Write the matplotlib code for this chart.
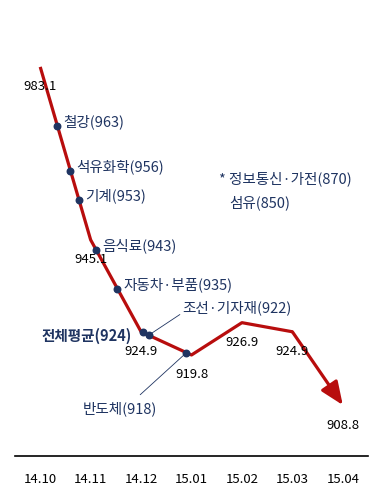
import numpy as np
import matplotlib
matplotlib.use("Agg")
import matplotlib.pyplot as plt

plt.rcParams['font.family'] = ['Noto Sans CJK KR', 'DejaVu Sans']

# monthly average values
months = ['14.10', '14.11', '14.12', '15.01', '15.02', '15.03', '15.04']
values = [983.1, 945.1, 924.9, 919.8, 926.9, 924.9, 908.8]

# industries marked on the line
industries = ['철강', '석유화학', '기계', '음식료', '자동차·부품', '전체평균', '조선·기자재', '반도체']
industry_vals = [963, 956, 953, 943, 935, 924, 922, 918]

# industries below the chart range (listed as a note)
note_names = ['정보통신·가전', '섬유']
note_vals = [870, 850]

navy = '#1f3461'
red = '#b80d0d'

fig = plt.figure(figsize=(3.84, 4.96), dpi=100)
ax = fig.add_axes([15 / 384, 1 - 456 / 496, 353 / 384, 456 / 496])
ax.set_xlim(-0.5, 6.5)
ax.set_ylim(897.6, 997.8)

x = np.arange(len(months))
ax.plot(x[:-1], values[:-1], color=red, lw=2.3, solid_joinstyle='round',
        solid_capstyle='butt', zorder=2)
ax.annotate('', xy=(x[-1], values[-1]), xytext=(x[-2], values[-2]),
            arrowprops=dict(arrowstyle='-|>,head_length=1.0,head_width=0.42',
                            color=red, lw=2.3, mutation_scale=14,
                            shrinkA=0, shrinkB=0), zorder=2)

for xi, v in zip(x, values):
    ax.annotate(f'{v:.1f}', (xi, v), xytext=(0, -20), textcoords='offset pixels',
                ha='center', va='center', fontsize=9.5, color='black')

# where each industry dot sits along the month axis
dot_x = [0.34, 0.60, 0.77, 1.11, 1.53, 2.03, 2.15, 2.90]
dot_y = np.interp(dot_x, x, values)
ax.scatter(dot_x, dot_y, s=22, color=navy, zorder=3)

for i, (name, v) in enumerate(zip(industries, industry_vals)):
    label = f'{name}({v})'
    if name == '전체평균':
        ax.annotate(label, (dot_x[i], dot_y[i]), xytext=(-11, -3),
                    textcoords='offset pixels', ha='right', va='center',
                    fontsize=10.5, color=navy, fontweight='bold')
    elif name == '조선·기자재':
        ax.annotate(label, (dot_x[i], dot_y[i]), xytext=(34, 27),
                    textcoords='offset pixels', ha='left', va='center',
                    fontsize=10.5, color=navy,
                    arrowprops=dict(arrowstyle='-', color=navy, lw=0.6,
                                    relpos=(0, 0.2), shrinkA=0, shrinkB=3))
    elif name == '반도체':
        ax.annotate(label, (dot_x[i], dot_y[i]), xytext=(-104, -56),
                    textcoords='offset pixels', ha='left', va='center',
                    fontsize=10.5, color=navy,
                    arrowprops=dict(arrowstyle='-', color=navy, lw=0.6,
                                    relpos=(0.68, 1.0), shrinkA=4, shrinkB=0))
    else:
        ax.annotate(label, (dot_x[i], dot_y[i]), xytext=(6, 4),
                    textcoords='offset pixels', ha='left', va='center',
                    fontsize=10.5, color=navy)

ax.text(219 / 384, 1 - 179 / 496, f'* {note_names[0]}({note_vals[0]})',
        transform=fig.transFigure, ha='left', va='center', fontsize=10.5, color=navy)
ax.text(229 / 384, 1 - 203 / 496, f'{note_names[1]}({note_vals[1]})',
        transform=fig.transFigure, ha='left', va='center', fontsize=10.5, color=navy)

ax.set_xticks(x)
ax.set_xticklabels(months, fontsize=9.5)
ax.tick_params(axis='x', length=0, pad=12)
ax.tick_params(axis='y', left=False, labelleft=False)
for s in ['top', 'right', 'left']:
    ax.spines[s].set_visible(False)
ax.spines['bottom'].set_linewidth(1.2)

fig.savefig('out.png', dpi=100)
